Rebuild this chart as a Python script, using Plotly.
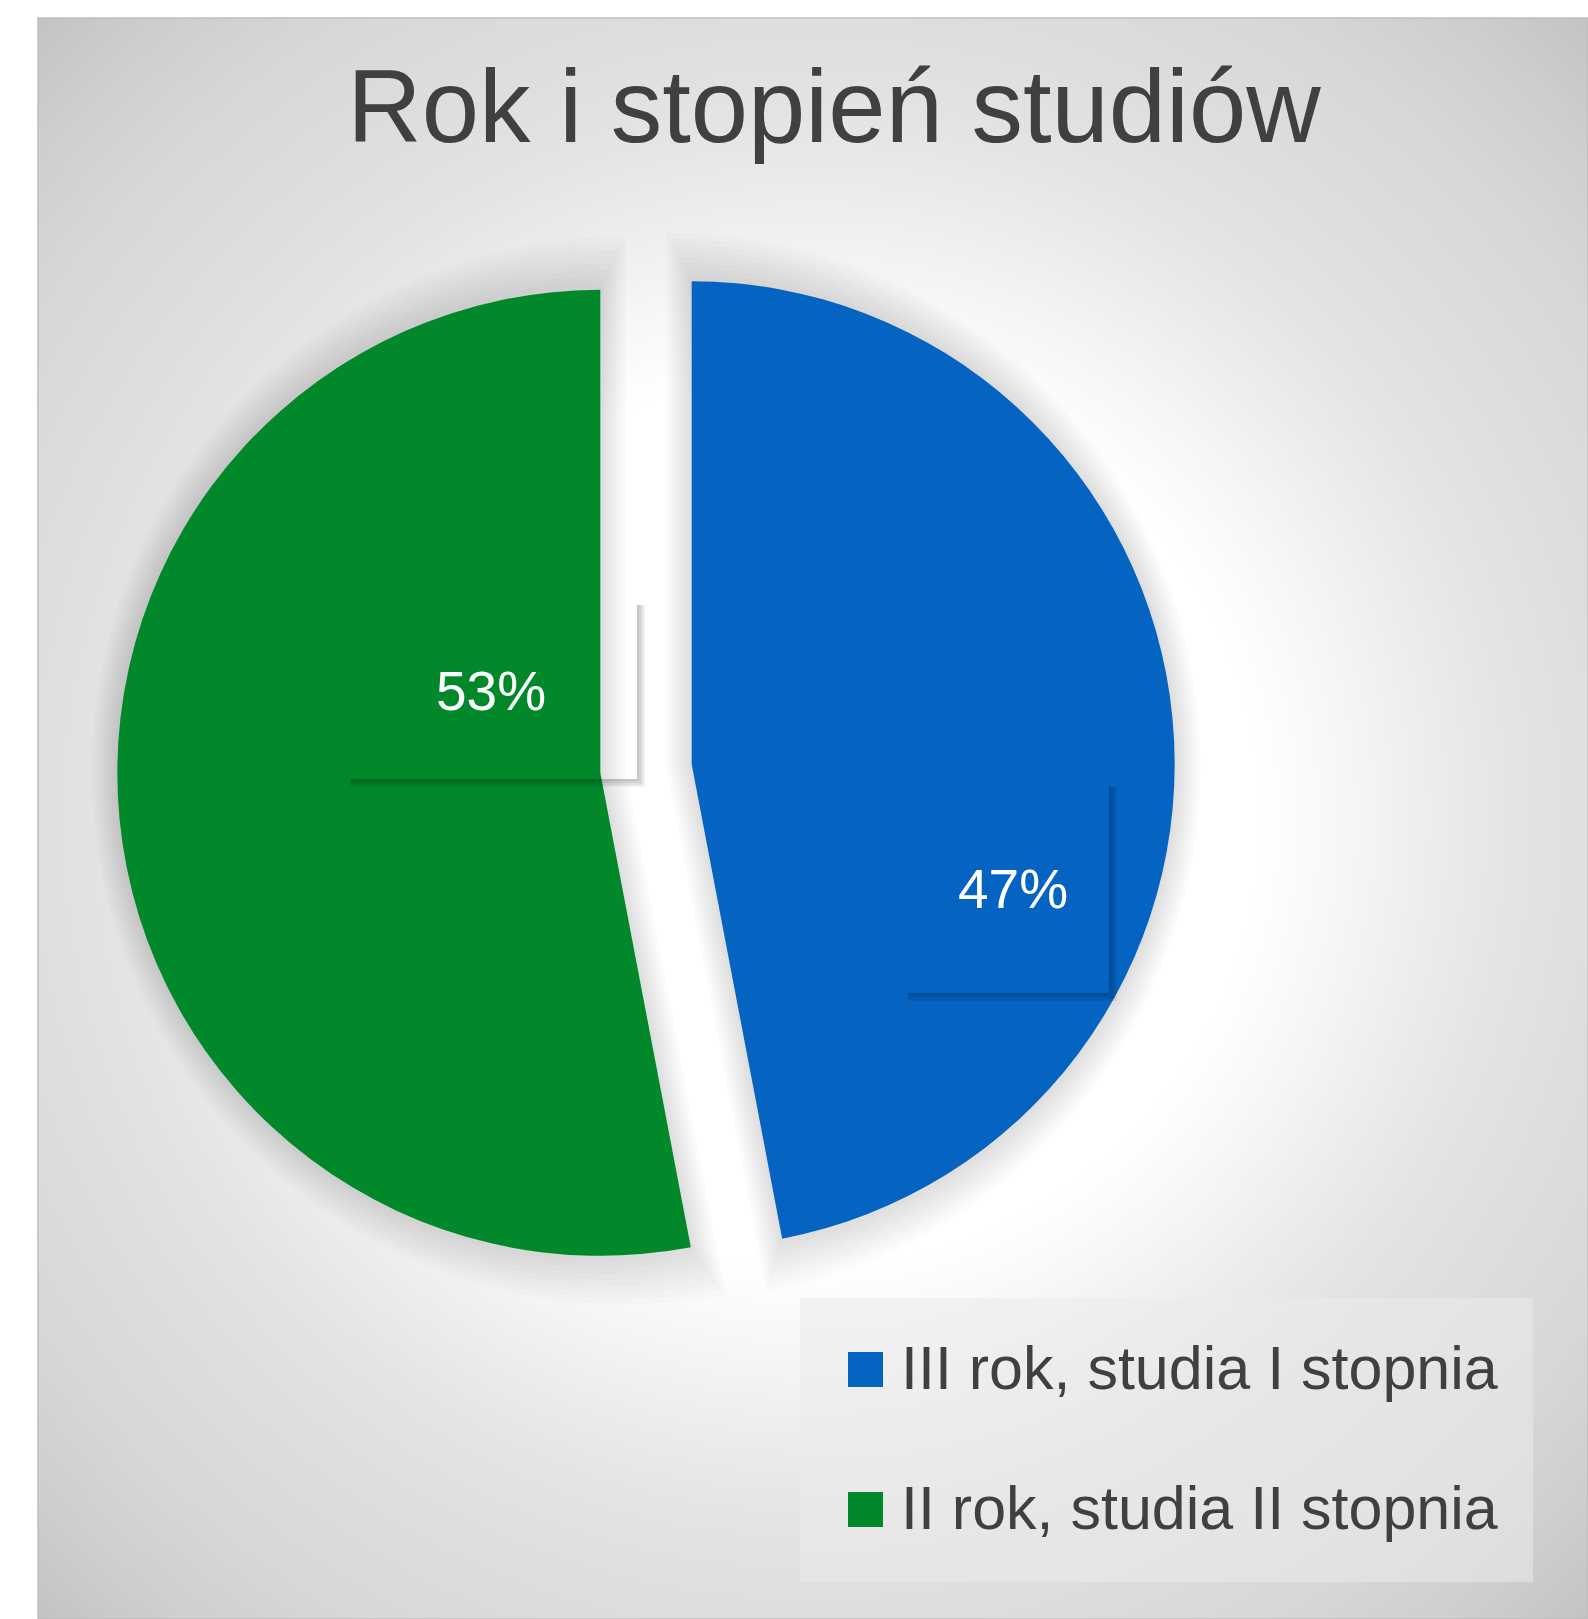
import base64
import plotly.graph_objects as go

# ---------------- data ----------------
categories = ["III rok, studia I stopnia", "II rok, studia II stopnia"]
shares = [47, 53]
colors = ["#0563C1", "#00882B"]
title_text = "Rok i stopień studiów"

# ---------------- layout helpers ----------------
W, H = 1588, 1619
FONT = "Liberation Sans, Arial, Helvetica, sans-serif"


def px(x):
    return x / W


def py(y):
    return 1 - y / H


# chart area (radial gradient background)
AX0, AY0, AX1, AY1 = 38, 18, 1588, 1619
gw, gh = AX1 - AX0, AY1 - AY0
grad_stops = [
    (0.00, "#ffffff"), (0.40, "#ffffff"), (0.48, "#f6f6f6"), (0.56, "#ececec"),
    (0.63, "#e4e4e4"), (0.70, "#dfdfdf"), (0.83, "#d7d7d7"), (0.92, "#cecece"),
    (1.00, "#c3c3c3"),
]
svg = (
    f"<svg xmlns='http://www.w3.org/2000/svg' width='{gw}' height='{gh}' "
    f"viewBox='0 0 {gw} {gh}' preserveAspectRatio='none'>"
    f"<defs><radialGradient id='g' gradientUnits='userSpaceOnUse' "
    f"cx='{gw/2}' cy='{gh/2}' r='1115'>"
    + "".join(f"<stop offset='{o}' stop-color='{c}'/>" for o, c in grad_stops)
    + "</radialGradient></defs>"
    f"<rect x='0' y='0' width='{gw}' height='{gh}' fill='url(#g)'/></svg>"
)
bg_uri = "data:image/svg+xml;base64," + base64.b64encode(svg.encode()).decode()

# pie geometry (pixels)
cx, cy, r, pull = 646, 768.5, 483, 0.095
half = r * (1 + pull)


def dom(extra=0.0):
    return dict(
        x=[px(cx - half - extra), px(cx + half + extra)],
        y=[py(cy + half + extra), py(cy - half - extra)],
    )


fig = go.Figure()

# soft shadow under the pie (stacked translucent, slightly grown copies)
for k in range(8, 0, -1):
    e = 3.2 * k
    rk = r + 2 * e
    fig.add_trace(
        go.Pie(
            values=shares,
            labels=[c + " " for c in categories],
            sort=False,
            direction="clockwise",
            rotation=0,
            pull=(pull * r - e) / rk,
            marker=dict(colors=["rgba(0,0,0,0.014)"] * len(shares)),
            textinfo="none",
            hoverinfo="skip",
            showlegend=False,
            domain=dom(e),
        )
    )

fig.add_trace(
    go.Pie(
        values=shares,
        labels=categories,
        sort=False,
        direction="clockwise",
        rotation=0,
        pull=pull,
        marker=dict(colors=colors),
        textinfo="none",
        showlegend=False,
        domain=dom(),
    )
)

shapes = [
    dict(
        type="rect", xref="paper", yref="paper",
        x0=px(AX0), x1=px(AX1), y0=py(AY1), y1=py(AY0),
        line=dict(color="#bfbfbf", width=1.5), fillcolor="rgba(0,0,0,0)", layer="below",
    ),
    # legend box
    dict(
        type="rect", xref="paper", yref="paper",
        x0=px(800), x1=px(1533), y0=py(1582), y1=py(1298),
        line=dict(width=0), fillcolor="rgba(235,235,235,0.55)", layer="below",
    ),
]
annotations = []

# percentage data labels (text from the data), placed like the original labels
total = sum(shares)
label_boxes = [(904, 783, 1109, 993), (346, 601, 637, 779)]  # x0, y0, x1, y1 in px
label_centres = [(1013, 889), (491, 691)]
for v, (bx0, by0, bx1, by1), (lx, ly) in zip(shares, label_boxes, label_centres):
    # soft drop shadow of the label box (bottom and right edges)
    for d in (2, 4, 6, 8):
        shapes.append(dict(
            type="rect", xref="paper", yref="paper",
            x0=px(bx0 + 4), x1=px(bx1 + d), y0=py(by1 + d), y1=py(by1),
            line=dict(width=0), fillcolor="rgba(0,0,0,0.06)",
        ))
        shapes.append(dict(
            type="rect", xref="paper", yref="paper",
            x0=px(bx1), x1=px(bx1 + d), y0=py(by1), y1=py(by0 + 4),
            line=dict(width=0), fillcolor="rgba(0,0,0,0.06)",
        ))
    annotations.append(dict(
        text=f"{round(100 * v / total)}%", xref="paper", yref="paper",
        x=px(lx), y=py(ly), xanchor="center", yanchor="middle", showarrow=False,
        font=dict(family=FONT, size=55, color="#ffffff"),
    ))

# legend (squares + category names)
row_y = [1369.5, 1509.5]
for cat, col, yy in zip(categories, colors, row_y):
    shapes.append(
        dict(
            type="rect", xref="paper", yref="paper",
            x0=px(848), x1=px(883), y0=py(yy + 17.5), y1=py(yy - 17.5),
            line=dict(width=0), fillcolor=col,
        )
    )
    annotations.append(
        dict(
            text=cat, xref="paper", yref="paper", x=px(899), y=py(yy - 2),
            xanchor="left", yanchor="middle", showarrow=False,
            font=dict(family=FONT, size=61, color="#404040"),
        )
    )

fig.update_layout(
    width=W,
    height=H,
    margin=dict(l=0, r=0, t=0, b=0, pad=0),
    paper_bgcolor="#ffffff",
    plot_bgcolor="#ffffff",
    showlegend=False,
    title=dict(
        text=title_text,
        x=px(834), xanchor="center",
        y=py(106), yanchor="middle",
        font=dict(family=FONT, size=103, color="#404040"),
    ),
    images=[
        dict(
            source=bg_uri, xref="paper", yref="paper",
            x=px(AX0), y=py(AY0), sizex=px(AX1) - px(AX0), sizey=(AY1 - AY0) / H,
            xanchor="left", yanchor="top", sizing="stretch", layer="below",
        )
    ],
    shapes=shapes,
    annotations=annotations,
)

fig.write_html(
    "out.html",
    config={"displayModeBar": False},
    post_script="document.body.style.margin='0';document.body.style.overflow='hidden';",
)
